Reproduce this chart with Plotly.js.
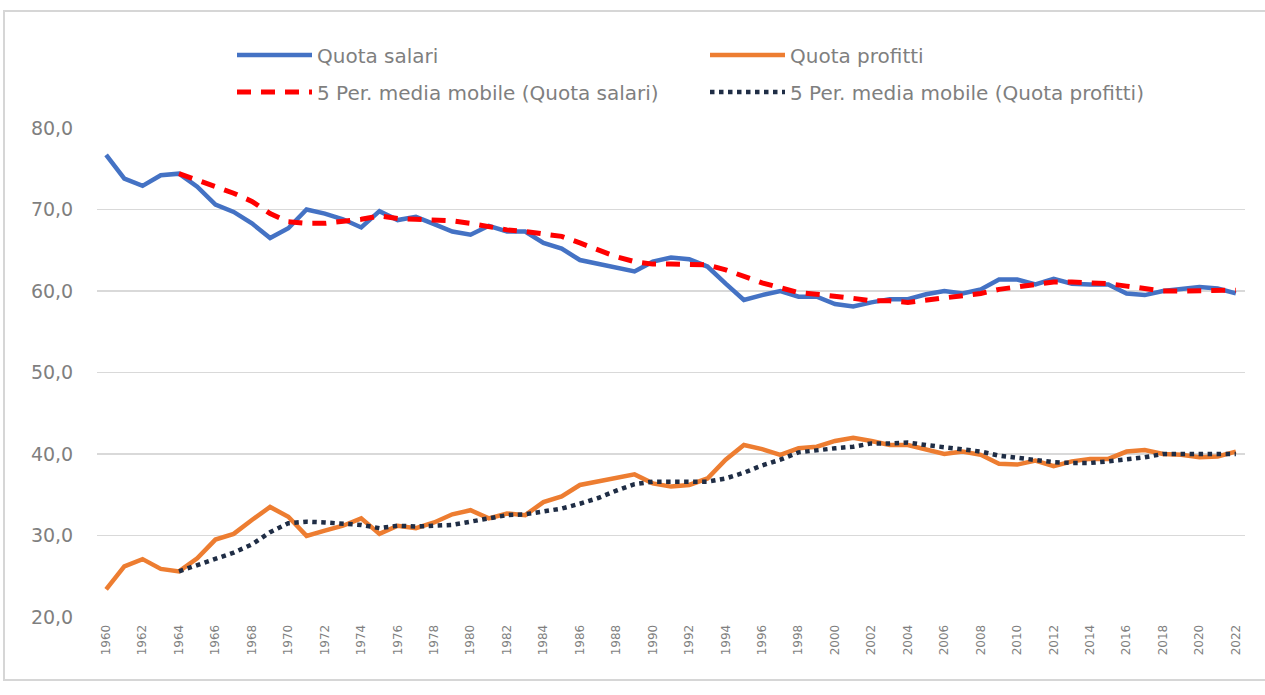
<!DOCTYPE html>
<html>
<head>
<meta charset="utf-8">
<script src="https://cdn.plot.ly/plotly-3.0.1.min.js"></script>
<style>
html,body{margin:0;padding:0;background:#ffffff;}
#chart{width:1265px;height:695px;}
</style>
</head>
<body>
<div id="chart"></div>
<script>
var years = [];
for (var yr = 1960; yr <= 2022; yr++) years.push(yr);
var maYears = years.slice(4);

var quotaSalari = [76.7,73.8,72.9,74.2,74.4,72.8,70.6,69.7,68.3,66.5,
  67.7,70.0,69.5,68.8,67.8,69.8,68.7,69.1,68.2,67.3,
  66.9,68.0,67.3,67.3,65.9,65.2,63.8,63.3,62.9,62.4,
  63.6,64.1,63.9,63.0,60.9,58.9,59.5,60.0,59.3,59.3,
  58.4,58.1,58.6,59.0,59.0,59.6,60.0,59.7,60.2,61.4,
  61.4,60.8,61.5,60.9,60.8,60.8,59.7,59.5,60.0,60.3,
  60.5,60.3,59.7];

var quotaProfitti = [23.4,26.2,27.1,25.9,25.6,27.2,29.5,30.2,31.9,33.5,
  32.3,29.95,30.6,31.2,32.1,30.2,31.2,30.9,31.6,32.6,
  33.1,32.1,32.7,32.5,34.1,34.8,36.2,36.6,37.1,37.5,
  36.4,36.0,36.2,37.0,39.3,41.1,40.6,39.9,40.7,40.9,
  41.6,42.0,41.6,41.1,41.1,40.6,40.0,40.3,39.9,38.8,
  38.7,39.2,38.5,39.1,39.4,39.4,40.3,40.5,40.0,39.9,
  39.6,39.7,40.3];

var mediaSalari = [74.4,73.6,72.8,72.0,71.0,69.5,68.5,68.3,68.3,68.5,
  68.8,69.2,68.9,68.8,68.7,68.6,68.3,67.9,67.5,67.3,
  67.0,66.7,65.9,65.0,64.2,63.6,63.3,63.3,63.3,63.2,
  62.6,61.8,61.0,60.4,59.8,59.6,59.4,59.1,58.8,58.8,
  58.6,58.9,59.2,59.4,59.7,60.2,60.5,60.7,61.1,61.1,
  61.0,60.9,60.6,60.3,60.0,60.0,60.0,60.1,60.1];

var mediaProfitti = [25.6,26.4,27.2,27.9,28.9,30.4,31.5,31.7,31.6,31.4,
  31.3,30.9,31.2,31.1,31.2,31.3,31.7,32.1,32.5,32.6,
  32.9,33.3,33.9,34.6,35.5,36.3,36.6,36.6,36.6,36.6,
  37.0,37.7,38.6,39.3,40.2,40.5,40.7,40.9,41.3,41.3,
  41.4,41.1,40.8,40.6,40.3,39.8,39.5,39.3,39.0,38.9,
  38.9,39.1,39.3,39.6,40.0,40.0,40.0,39.9,40.0];

var tickYears = years.filter(function(y){ return (y - 1960) % 2 === 0; });
var names = ['Quota salari','Quota profitti','5 Per. media mobile (Quota salari)','5 Per. media mobile (Quota profitti)'];

var FONT = 'DejaVu Sans, Open Sans, sans-serif';
var TXT = '#7f7f7f';

var traces = [
  {x: years, y: quotaSalari, name: names[0], type: 'scatter', mode: 'lines',
   line: {color: '#4472C4', width: 4.5}, legend: 'legend'},
  {x: years, y: quotaProfitti, name: names[1], type: 'scatter', mode: 'lines',
   line: {color: '#ED7D31', width: 4.5}, legend: 'legend2'},
  {x: maYears, y: mediaSalari, name: names[2], type: 'scatter', mode: 'lines',
   line: {color: '#FF0000', width: 5, dash: '14px,10px'}, legend: 'legend3'},
  {x: maYears, y: mediaProfitti, name: names[3], type: 'scatter', mode: 'lines',
   line: {color: '#1F2D45', width: 4.5, dash: 'dot'}, legend: 'legend4'}
];

function leg(px, py) {
  return {xref: 'container', yref: 'container', x: px / 1265, y: 1 - py / 695,
    xanchor: 'left', yanchor: 'middle', bgcolor: 'rgba(0,0,0,0)',
    font: {family: FONT, size: 20, color: TXT}, itemwidth: 75, borderwidth: 0};
}

var layout = {
  width: 1265, height: 695,
  margin: {l: 97, r: 20, t: 128, b: 78, autoexpand: false},
  paper_bgcolor: '#ffffff', plot_bgcolor: '#ffffff',
  separators: ',.',
  font: {family: FONT, color: TXT},
  xaxis: {
    range: [1959.5, 2022.5], tickmode: 'array', tickvals: tickYears,
    ticktext: tickYears.map(String), tickangle: -90,
    tickfont: {family: FONT, size: 12, color: TXT},
    showgrid: false, zeroline: false, showline: false,
    ticks: 'outside', ticklen: 2, tickcolor: 'rgba(0,0,0,0)', fixedrange: true
  },
  yaxis: {
    range: [20, 80], tickvals: [20,30,40,50,60,70,80], tickformat: '.1f',
    tickfont: {family: FONT, size: 19, color: TXT},
    showgrid: true, gridcolor: '#d9d9d9', gridwidth: 1.5,
    zeroline: false, showline: false,
    ticks: 'outside', ticklen: 19, tickcolor: 'rgba(0,0,0,0)'
  },
  showlegend: true,
  legend: leg(232, 55),
  legend2: leg(705, 55),
  legend3: leg(232, 92),
  legend4: leg(705, 92),
  shapes: [
    {type: 'rect', xref: 'paper', yref: 'paper',
     x0: (4 - 97) / 1148, x1: (1272 - 97) / 1148,
     y0: (617 - 680) / 489, y1: (617 - 11) / 489,
     line: {color: '#d6d6d6', width: 2}, fillcolor: 'rgba(0,0,0,0)', layer: 'below'}
  ]
};

Plotly.newPlot('chart', traces, layout, {displayModeBar: false, staticPlot: true});
</script>
</body>
</html>
